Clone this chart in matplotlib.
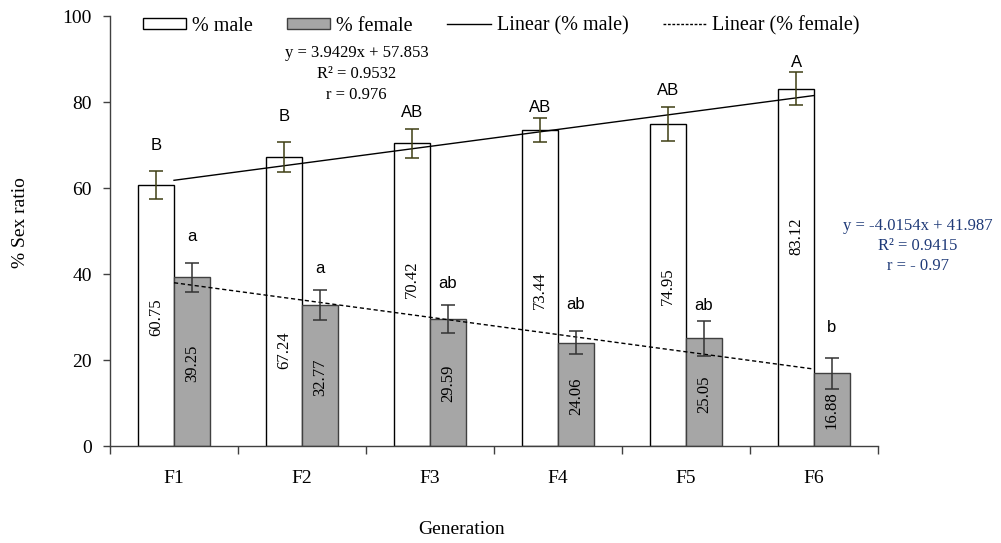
import numpy as np
import matplotlib
matplotlib.use("Agg")
import matplotlib.pyplot as plt
from matplotlib.patches import Patch
from matplotlib.lines import Line2D

# ---- data -----------------------------------------------------------------
generations = ["F1", "F2", "F3", "F4", "F5", "F6"]
male = [60.75, 67.24, 70.42, 73.44, 74.95, 83.12]
female = [39.25, 32.77, 29.59, 24.06, 25.05, 16.88]
male_err = [3.2, 3.5, 3.4, 2.8, 3.9, 3.8]
female_err = [3.4, 3.5, 3.2, 2.7, 4.0, 3.7]
male_letters = ["B", "B", "AB", "AB", "AB", "A"]
female_letters = ["a", "a", "ab", "ab", "ab", "b"]
male_fit = (3.9429, 57.853)
female_fit = (-4.0154, 41.987)

# label placement (data y), mimics the Excel layout
male_val_y = [30.0, 22.3, 38.8, 36.3, 37.2, 48.7]
female_val_y = [19.2, 16.1, 14.6, 11.6, 12.1, 8.4]
male_let_y = [68.8, 75.7, 76.4, 77.7, 81.6, 88.2]
female_let_y = [47.7, 40.2, 36.7, 31.9, 31.6, 26.4]

SERIF = ["Liberation Serif", "DejaVu Serif"]
SANS = ["Liberation Sans", "DejaVu Sans"]
AX = "#404040"
GRAY = "#a6a6a6"
NAVY = "#1f3a78"
OLIVE = "#3f3f14"
BW = 0.28

plt.rcParams.update({"font.family": SERIF, "font.size": 14})
fig = plt.figure(figsize=(10.01, 5.43), dpi=100)
ax = fig.add_axes([0.1099, 0.1786, 0.7672, 0.7919])

x = np.arange(1, len(generations) + 1)
ax.bar(x - BW / 2, male, BW, color="white", edgecolor="black", linewidth=1, zorder=2)
ax.bar(x + BW / 2, female, BW, color=GRAY, edgecolor=AX, linewidth=1, zorder=2)
ax.errorbar(x - BW / 2, male, yerr=male_err, fmt="none", ecolor=OLIVE,
            elinewidth=1.1, capsize=5, capthick=1.1, zorder=4)
ax.errorbar(x + BW / 2, female, yerr=female_err, fmt="none", ecolor="#333333",
            elinewidth=1.1, capsize=5, capthick=1.1, zorder=4)

# trendlines at category centres
xs = np.array([x[0], x[-1]])
ax.plot(xs, male_fit[0] * xs + male_fit[1], color="black", lw=1, zorder=3)
ax.plot(xs, female_fit[0] * xs + female_fit[1], color="black", lw=1,
        ls=(0, (3, 2)), zorder=3)

for i in range(len(x)):
    ax.text(x[i] - BW / 2, male_val_y[i], f"{male[i]:.2f}", rotation=90,
            ha="center", va="center", fontsize=12, zorder=5)
    ax.text(x[i] + BW / 2, female_val_y[i], f"{female[i]:.2f}", rotation=90,
            ha="center", va="center", fontsize=12, zorder=5)
    ax.text(x[i] - BW / 2, male_let_y[i], male_letters[i], ha="center",
            va="baseline", fontsize=12, family=SANS)
    ax.text(x[i] + BW / 2, female_let_y[i], female_letters[i], ha="center",
            va="baseline", fontsize=12, family=SANS)

ax.set_xlim(0.5, len(x) + 0.5)
ax.set_ylim(0, 100)
ax.set_yticks(np.arange(0, 101, 20))
ax.set_xticks(np.arange(0.5, len(x) + 1, 1))
ax.set_xticklabels([])
ax.set_xticks(x, minor=True)
ax.set_xticklabels(generations, minor=True)
ax.tick_params(axis="x", which="major", direction="out", length=6, width=1, color=AX)
ax.tick_params(axis="x", which="minor", length=0, pad=17, labelsize=14)
ax.tick_params(axis="y", direction="out", length=5, width=1, color=AX, pad=8,
               labelsize=14)
for s in ["top", "right"]:
    ax.spines[s].set_visible(False)
for s in ["left", "bottom"]:
    ax.spines[s].set_color(AX)
    ax.spines[s].set_linewidth(1)

fig.text(0.020, 1 - 223 / 543, "% Sex ratio", rotation=90, ha="center",
         va="center", fontsize=14)
fig.text(0.461, 1 - 530 / 543, "Generation", ha="center", va="center", fontsize=14)

fig.text(0.356, 1 - 74 / 543,
         f"y = {male_fit[0]}x + {male_fit[1]}\nR\u00b2 = 0.9532\nr = 0.976",
         ha="center", va="center", fontsize=12, linespacing=1.45)
fig.text(0.917, 1 - 246 / 543,
         f"y = {female_fit[0]}x + {female_fit[1]}\nR\u00b2 = 0.9415\nr = - 0.97",
         ha="center", va="center", fontsize=12, linespacing=1.32, color=NAVY)

handles = [Patch(facecolor="white", edgecolor="black", lw=1, label="% male"),
           Patch(facecolor=GRAY, edgecolor=AX, lw=1, label="% female"),
           Line2D([0], [0], color="black", lw=1, label="Linear (% male)"),
           Line2D([0], [0], color="black", lw=1, ls=(0, (2, 1.2)),
                  label="Linear (% female)")]
fig.legend(handles=handles, loc="center", bbox_to_anchor=(501 / 1001, 1 - 26 / 543),
           ncol=4, frameon=False, fontsize=14.5, handlelength=2.15,
           handleheight=0.5, handletextpad=0.3, columnspacing=1.7)

fig.savefig("out.png", dpi=100, facecolor="white")
